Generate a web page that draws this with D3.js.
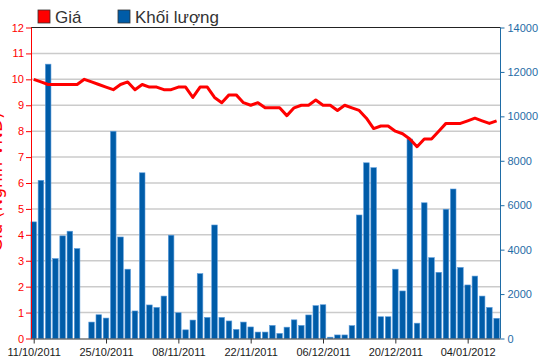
<!DOCTYPE html>
<html>
<head>
<meta charset="utf-8">
<script src="https://cdn.jsdelivr.net/npm/d3@7"></script>
<style>
  body { margin: 0; background: #fff; }
  svg { display: block; font-family: 'Liberation Sans', Arial, sans-serif; }
</style>
</head>
<body>
<svg id="chart"></svg>
<script>
// trading days shown on the x axis
const dates = [
  '11/10/2011', '12/10/2011', '13/10/2011', '14/10/2011', '17/10/2011', '18/10/2011', '19/10/2011', '20/10/2011', '21/10/2011', '24/10/2011',
  '25/10/2011', '26/10/2011', '27/10/2011', '28/10/2011', '31/10/2011', '01/11/2011', '02/11/2011', '03/11/2011', '04/11/2011', '07/11/2011',
  '08/11/2011', '09/11/2011', '10/11/2011', '11/11/2011', '14/11/2011', '15/11/2011', '16/11/2011', '17/11/2011', '18/11/2011', '21/11/2011',
  '22/11/2011', '23/11/2011', '24/11/2011', '25/11/2011', '28/11/2011', '29/11/2011', '30/11/2011', '01/12/2011', '02/12/2011', '05/12/2011',
  '06/12/2011', '07/12/2011', '08/12/2011', '09/12/2011', '12/12/2011', '13/12/2011', '14/12/2011', '15/12/2011', '16/12/2011', '19/12/2011',
  '20/12/2011', '21/12/2011', '22/12/2011', '23/12/2011', '26/12/2011', '27/12/2011', '28/12/2011', '29/12/2011', '30/12/2011', '03/01/2012',
  '04/01/2012', '05/01/2012', '06/01/2012', '09/01/2012', '10/01/2012'
]

// Giá (nghìn VNĐ)
const price = [
  10.0, 9.9, 9.8, 9.8, 9.8, 9.8, 9.8, 10.0, 9.9, 9.8,
  9.7, 9.6, 9.8, 9.9, 9.6, 9.8, 9.7, 9.7, 9.6, 9.6,
  9.7, 9.7, 9.3, 9.7, 9.7, 9.3, 9.1, 9.4, 9.4, 9.1,
  9.0, 9.1, 8.9, 8.9, 8.9, 8.6, 8.9, 9.0, 9.0, 9.2,
  9.0, 9.0, 8.8, 9.0, 8.9, 8.8, 8.5, 8.1, 8.2, 8.2,
  8.0, 7.9, 7.7, 7.4, 7.7, 7.7, 8.0, 8.3, 8.3, 8.3,
  8.4, 8.5, 8.4, 8.3, 8.4
]

// Khối lượng
const volume = [
  5250, 7120, 12350, 3600, 4620, 4830, 4050, 0, 740, 1070,
  920, 9330, 4570, 3120, 1240, 7460, 1510, 1400, 1910, 4650,
  1160, 390, 830, 2920, 950, 5110, 950, 790, 410, 740,
  520, 290, 290, 590, 230, 510, 840, 590, 1060, 1480,
  1520, 60, 160, 160, 580, 5560, 7910, 7690, 980, 980,
  3120, 2140, 8980, 690, 6110, 3640, 2980, 5820, 6730, 3200,
  2410, 2810, 1910, 1400, 910
]

const tickDates = ['11/10/2011', '25/10/2011', '08/11/2011', '22/11/2011', '06/12/2011', '20/12/2011', '04/01/2012']
const priceTicks = [0, 1, 2, 3, 4, 5, 6, 7, 8, 9, 10, 11, 12]
const volumeTicks = [0, 2000, 4000, 6000, 8000, 10000, 12000, 14000]

const w = 550, h = 364
const pL = 31, pR = 500.5, pT = 27.5, pB = 338.5
const red = '#ff0000', blue = '#1f6ca6'

const svg = d3.select('#chart').attr('width', w).attr('height', h)

const x = d3.scalePoint().domain(dates).range([33.7, 496.6])
const yP = d3.scaleLinear().domain([0, 12]).range([pB, pT])
const yV = d3.scaleLinear().domain([0, 14000]).range([pB, pT])

// grid
svg.append('g')
  .selectAll('line')
  .data(priceTicks.filter(d => d > 0 && d < 12)).enter().append('line')
  .attr('x1', pL).attr('x2', pR)
  .attr('y1', d => yP(d)).attr('y2', d => yP(d))
  .attr('stroke', '#cbcbcb')
  .attr('stroke-width', 1.5)

// top border
svg.append('line')
  .attr('x1', pL).attr('x2', pR)
  .attr('y1', pT).attr('y2', pT)
  .attr('stroke', '#222')

// volume bars
const bw = 5.6
svg.append('g')
  .selectAll('rect')
  .data(volume).enter().append('rect')
  .attr('x', (d, i) => x(dates[i]) - bw / 2)
  .attr('width', bw)
  .attr('y', d => yV(d))
  .attr('height', d => pB - yV(d))
  .attr('fill', '#005ca8')
  .attr('stroke', '#5d9ddc')
  .attr('stroke-width', 0.6)

// price line
svg.append('path')
  .datum(price)
  .attr('d', d3.line().x((d, i) => x(dates[i])).y(d => yP(d)))
  .attr('fill', 'none')
  .attr('stroke', red)
  .attr('stroke-width', 3)
  .attr('stroke-linejoin', 'round')

// x axis
const xAx = svg.append('g')
  .attr('transform', `translate(0, ${pB})`)
  .call(d3.axisBottom(x).tickValues(tickDates).tickSize(5).tickPadding(5))
xAx.select('.domain').attr('d', `M${pL},0.5H${pR}`).attr('stroke', '#333')
xAx.selectAll('.tick line').attr('stroke', '#333')
xAx.selectAll('text').attr('font-size', 11).attr('fill', '#1a1a1a').attr('font-family', "'Liberation Sans', Arial, sans-serif")

// left axis
const lAx = svg.append('g')
  .attr('transform', `translate(${pL}, 0)`)
  .call(d3.axisLeft(yP).tickValues(priceTicks).tickSize(5).tickPadding(2))
lAx.select('.domain').attr('d', `M0.5,${pT}V${pB}`).attr('stroke', red)
lAx.selectAll('.tick line').attr('stroke', red)
lAx.selectAll('text').attr('font-size', 11).attr('fill', red).attr('font-family', "'Liberation Sans', Arial, sans-serif")

// right axis
const rAx = svg.append('g')
  .attr('transform', `translate(${pR}, 0)`)
  .call(d3.axisRight(yV).tickValues(volumeTicks).tickFormat(d3.format('d')).tickSize(4).tickPadding(3))
rAx.select('.domain').attr('d', `M0,${pT}V${pB}`).attr('stroke', blue)
rAx.selectAll('.tick line').attr('stroke', blue)
rAx.selectAll('text').attr('font-size', 11).attr('fill', blue).attr('font-family', "'Liberation Sans', Arial, sans-serif")

// left axis title, cut by the left edge as in the original
svg.append('text')
  .attr('transform', `translate(1.5, 182) rotate(-90)`)
  .attr('text-anchor', 'middle')
  .attr('font-size', 17)
  .attr('font-family', "'DejaVu Sans', Verdana, sans-serif")
  .attr('fill', red)
  .text('Giá (Nghìn VNĐ)')

// legend
const legend = [
  { name: 'Giá', color: red, x: 38 },
  { name: 'Khối lượng', color: '#005ca8', x: 118 }
]
const lg = svg.append('g')
  .selectAll('g')
  .data(legend).enter().append('g')
  .attr('transform', d => `translate(${d.x}, 10)`)
lg.append('rect')
  .attr('width', 12).attr('height', 13)
  .attr('fill', d => d.color)
  .attr('stroke', '#333')
  .attr('stroke-width', 0.8)
lg.append('text')
  .attr('x', 17).attr('y', 13)
  .attr('font-size', 17)
  .attr('fill', '#333')
  .text(d => d.name)
</script>
</body>
</html>
